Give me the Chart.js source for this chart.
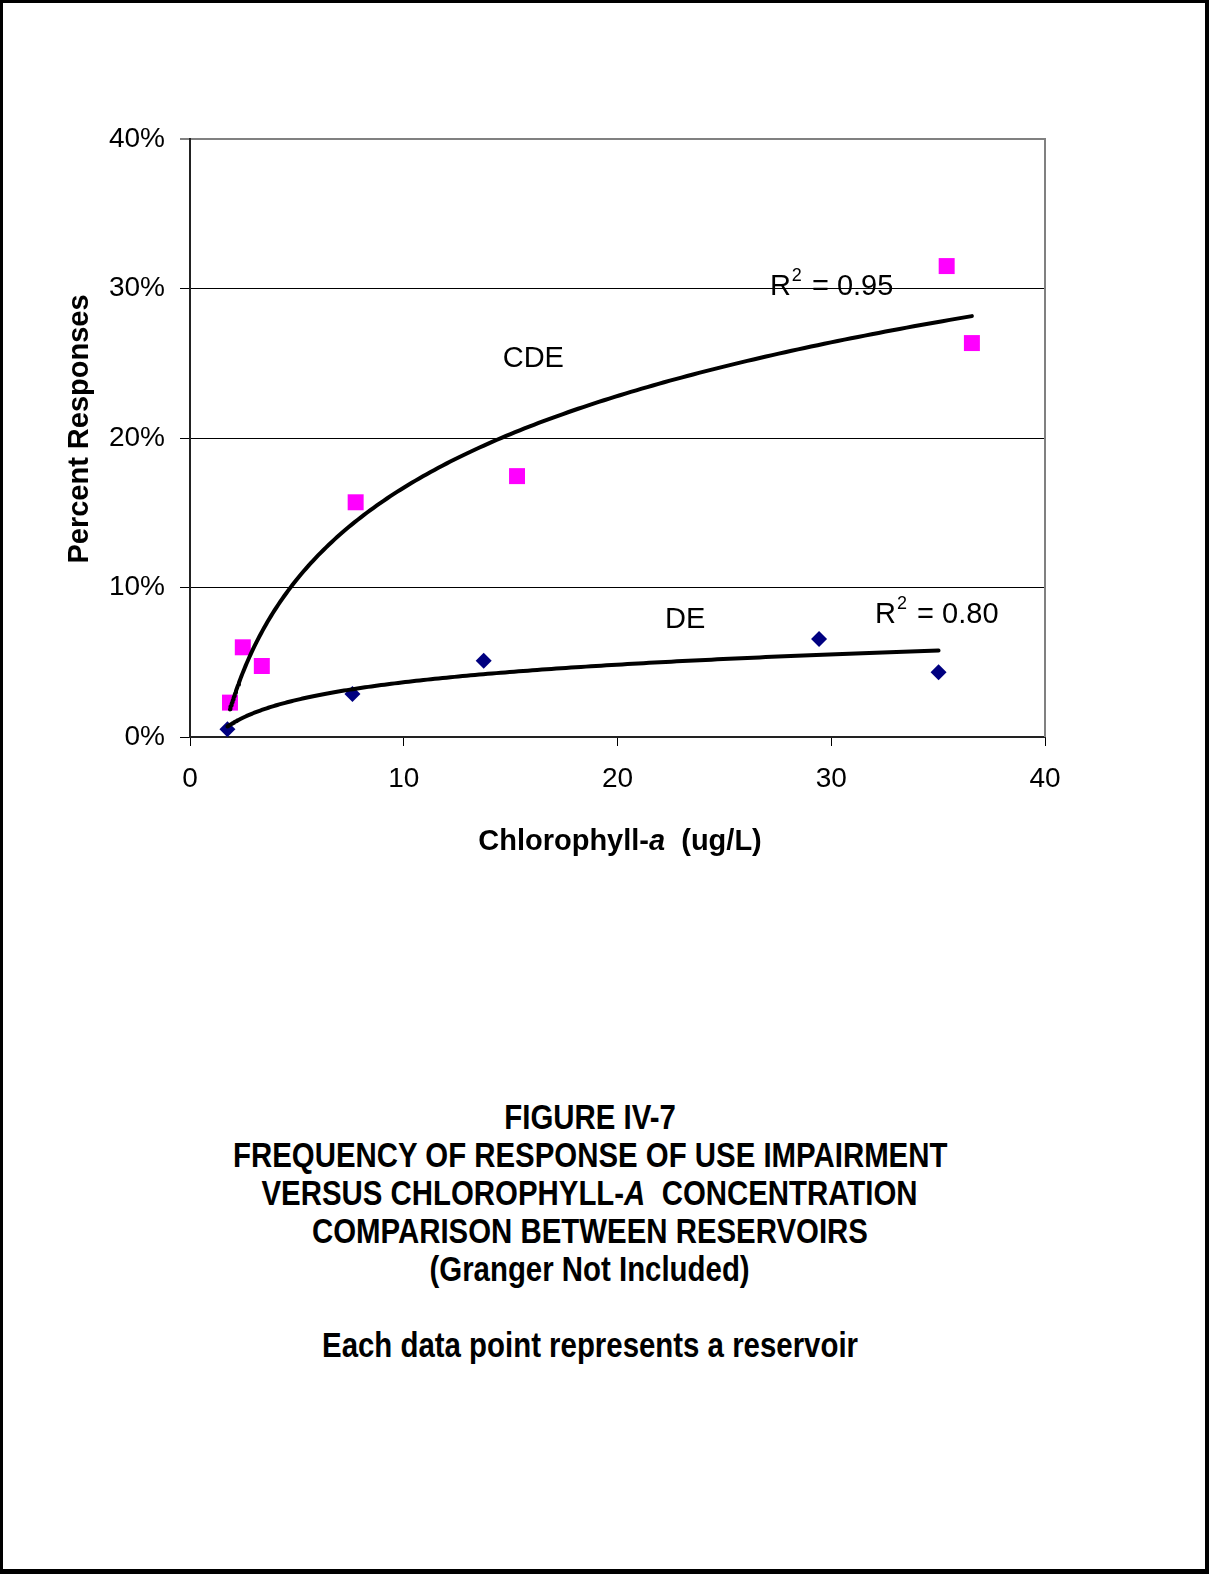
<!DOCTYPE html>
<html>
<head>
<meta charset="utf-8">
<title>Figure IV-7</title>
<script src="https://cdn.jsdelivr.net/npm/chart.js@4.4.1/dist/chart.umd.min.js"></script>
<style>
  html, body { margin: 0; padding: 0; background: #fff; }
  body { position: relative; width: 1209px; height: 1574px; overflow: hidden; }
  #chart { position: absolute; left: 0; top: 0; }
  #caption {
    position: absolute; left: 0; top: 1098px; width: 1180px;
    text-align: center;
    font-family: "Liberation Sans", Arial, sans-serif;
    font-weight: bold; font-size: 35px; line-height: 38px; color: #000;
  }
  #caption div { height: 38px; }
  /* condensed caption lettering */
  #caption span { display: inline-block; white-space: pre; transform: scaleX(0.84); transform-origin: 50% 50%; }
  #frame {
    position: absolute; left: 0; top: 0; width: 1209px; height: 1574px;
    box-sizing: border-box; border-style: solid; border-color: #000;
    border-width: 3px 4px 5px 3px; pointer-events: none;
  }
</style>
</head>
<body>
<canvas id="chart" width="1209" height="900"></canvas>
<div id="caption">
  <div><span>FIGURE IV-7</span></div>
  <div><span>FREQUENCY OF RESPONSE OF USE IMPAIRMENT</span></div>
  <div><span>VERSUS CHLOROPHYLL-<i>A</i>  CONCENTRATION</span></div>
  <div><span>COMPARISON BETWEEN RESERVOIRS</span></div>
  <div><span>(Granger Not Included)</span></div>
  <div></div>
  <div><span>Each data point represents a reservoir</span></div>
</div>
<div id="frame"></div>
<script>
// Chlorophyll-a (ug/L) and percent of responses, one point per reservoir
const cdeX = [1.87, 2.47, 3.36, 7.75, 15.3, 35.4, 36.58];
const cdeY = [2.3, 6.0, 4.75, 15.7, 17.45, 31.5, 26.35];
const deX = [1.75, 7.6, 13.74, 29.43, 35.02];
const deY = [0.52, 2.88, 5.1, 6.55, 4.33];

const xTicks = [0, 10, 20, 30, 40];
const yTicks = [0, 10, 20, 30, 40];

const xTitle = ['Chlorophyll-', 'a', '  (ug/L)'];
const yTitle = 'Percent Responses';

// Least-squares logarithmic trendline: y = a*ln(x) + b
function logFit(xs, ys) {
  const n = xs.length;
  const lx = xs.map(Math.log);
  const mx = lx.reduce((s, v) => s + v, 0) / n;
  const my = ys.reduce((s, v) => s + v, 0) / n;
  let sxy = 0, sxx = 0, syy = 0;
  for (let i = 0; i < n; i++) {
    const dx = lx[i] - mx, dy = ys[i] - my;
    sxy += dx * dy; sxx += dx * dx; syy += dy * dy;
  }
  const a = sxy / sxx;
  return { a: a, b: my - a * mx, r2: (sxy * sxy) / (sxx * syy) };
}

// Trendline curve over the range of the series' own x values
function trendCurve(xs, fit, steps) {
  const lo = Math.min(...xs), hi = Math.max(...xs);
  const pts = [];
  for (let i = 0; i <= steps; i++) {
    const x = lo + (hi - lo) * Math.pow(i / steps, 2);
    pts.push({ x: x, y: fit.a * Math.log(x) + fit.b });
  }
  return pts;
}

const toPoints = (xs, ys) => xs.map((x, i) => ({ x: x, y: ys[i] }));

const cdeFit = logFit(cdeX, cdeY);
const deFit = logFit(deX, deY);

const FONT = 'Liberation Sans';

// Series labels and R-squared notes, placed in data coordinates
const notes = [
  { text: 'CDE', x: 14.63, y: 24.77 },
  { text: 'DE', x: 22.22, y: 7.31 },
  { r2: cdeFit.r2, x: 27.13, y: 29.55 },
  { r2: deFit.r2, x: 32.05, y: 7.61 }
];

const plotFrame = {
  id: 'plotFrame',
  beforeDatasetsDraw(chart) {
    const { ctx, chartArea: a } = chart;
    ctx.save();
    ctx.strokeStyle = '#808080';
    ctx.lineWidth = 2;
    ctx.beginPath();
    ctx.moveTo(a.right, a.top - 1);
    ctx.lineTo(a.right, a.bottom);
    ctx.stroke();
    ctx.restore();
  }
};

const textLayer = {
  id: 'textLayer',
  afterDraw(chart) {
    const { ctx, chartArea: a, scales } = chart;
    ctx.save();
    ctx.fillStyle = '#000';
    ctx.textBaseline = 'alphabetic';
    ctx.textAlign = 'left';

    notes.forEach(n => {
      const px = scales.x.getPixelForValue(n.x);
      const py = scales.y.getPixelForValue(n.y);
      ctx.font = '29px "' + FONT + '"';
      if (n.text) {
        ctx.fillText(n.text, px, py);
        return;
      }
      ctx.fillText('R', px, py);
      let cx = px + ctx.measureText('R').width + 1;
      ctx.font = '18px "' + FONT + '"';
      ctx.fillText('2', cx, py - 14.5);
      cx += ctx.measureText('2').width + 2;
      ctx.font = '29px "' + FONT + '"';
      ctx.fillText(' = ' + n.r2.toFixed(2), cx, py);
    });

    // x-axis title with italic "a"
    const fonts = ['bold 29px "' + FONT + '"', 'italic bold 29px "' + FONT + '"', 'bold 29px "' + FONT + '"'];
    let total = 0;
    const widths = xTitle.map((s, i) => { ctx.font = fonts[i]; const w = ctx.measureText(s).width; total += w; return w; });
    let tx = (a.left + a.right) / 2 + 2.5 - total / 2;
    const ty = a.bottom + 113;
    xTitle.forEach((s, i) => { ctx.font = fonts[i]; ctx.fillText(s, tx, ty); tx += widths[i]; });

    // y-axis title, rotated
    ctx.translate(87.5, (a.top + a.bottom) / 2 - 9);
    ctx.rotate(-Math.PI / 2);
    ctx.textAlign = 'center';
    ctx.font = 'bold 29px "' + FONT + '"';
    ctx.fillText(yTitle, 0, 0);
    ctx.restore();
  }
};

new Chart(document.getElementById('chart'), {
  type: 'scatter',
  data: {
    datasets: [
      {
        label: 'CDE trend', type: 'line', data: trendCurve(cdeX, cdeFit, 200),
        borderColor: '#000', borderWidth: 4, pointRadius: 0, fill: false,
        tension: 0, borderCapStyle: 'round', borderJoinStyle: 'round', order: 0
      },
      {
        label: 'DE trend', type: 'line', data: trendCurve(deX, deFit, 200),
        borderColor: '#000', borderWidth: 4, pointRadius: 0, fill: false,
        tension: 0, borderCapStyle: 'round', borderJoinStyle: 'round', order: 0
      },
      {
        label: 'CDE', data: toPoints(cdeX, cdeY), pointStyle: 'rect', pointRadius: 11.3,
        backgroundColor: '#FF00FF', borderColor: '#FF00FF', borderWidth: 0, order: 1
      },
      {
        label: 'DE', data: toPoints(deX, deY), pointStyle: 'rectRot', pointRadius: 8,
        backgroundColor: '#000080', borderColor: '#000080', borderWidth: 0, order: 1
      }
    ]
  },
  options: {
    responsive: false,
    animation: false,
    devicePixelRatio: 1,
    events: [],
    layout: { padding: { left: 0, top: 139, right: 164, bottom: 63 } },
    plugins: { legend: { display: false }, tooltip: { enabled: false }, title: { display: false } },
    scales: {
      x: {
        type: 'linear', min: xTicks[0], max: xTicks[xTicks.length - 1],
        afterBuildTicks: s => { s.ticks = xTicks.map(v => ({ value: v })); },
        afterFit: s => { s.height = 100; },
        grid: { drawOnChartArea: false, drawTicks: true, tickLength: 9, color: '#000', lineWidth: 1 },
        border: { display: true, color: '#222', width: 2 },
        ticks: { color: '#000', font: { family: FONT, size: 28 }, padding: 16, maxRotation: 0, autoSkip: false }
      },
      y: {
        type: 'linear', min: yTicks[0], max: yTicks[yTicks.length - 1],
        afterBuildTicks: s => { s.ticks = yTicks.map(v => ({ value: v })); },
        afterFit: s => { s.width = 190; },
        grid: {
          drawOnChartArea: true, drawTicks: true, tickLength: 10,
          color: c => (c.tick && c.tick.value === 40 ? '#808080' : '#000'),
          lineWidth: c => (c.tick && c.tick.value === 40 ? 2 : 1)
        },
        border: { display: true, color: '#222', width: 2 },
        ticks: { color: '#000', font: { family: FONT, size: 28 }, padding: 15, autoSkip: false,
                 callback: v => v + '%' }
      }
    }
  },
  plugins: [plotFrame, textLayer]
});
</script>
</body>
</html>
